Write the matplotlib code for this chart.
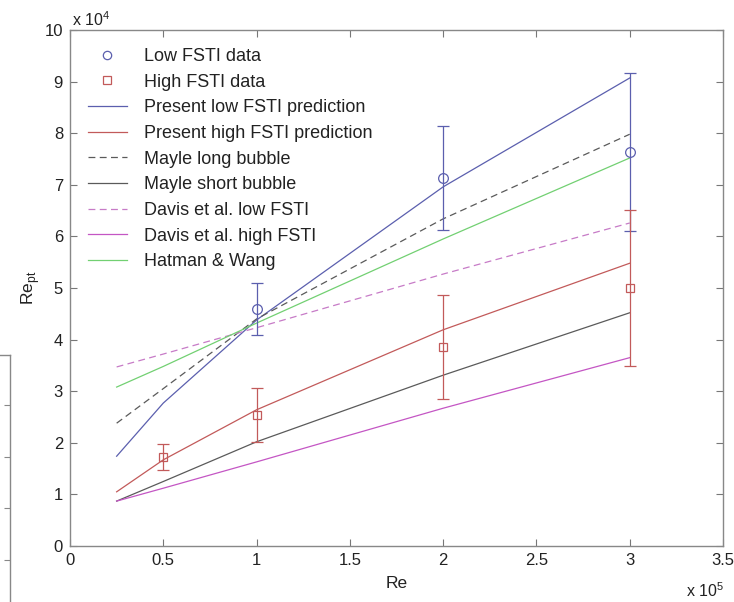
import matplotlib
matplotlib.use("Agg")
import matplotlib.pyplot as plt
from matplotlib.lines import Line2D

plt.rcParams['font.family'] = ['Liberation Sans', 'DejaVu Sans']

# ---- data (Re in 1e5, Re_pt in 1e4) ----
low_x = [1.0, 2.0, 3.0]
low_y = [4.59, 7.13, 7.64]
low_err = [0.50, 1.01, 1.53]
high_x = [0.5, 1.0, 2.0, 3.0]
high_y = [1.73, 2.54, 3.86, 5.00]
high_err = [0.25, 0.52, 1.01, 1.51]

re_line = [0.25, 0.5, 1.0, 2.0, 3.0]
present_low = [1.74, 2.77, 4.38, 6.96, 9.07]
present_high = [1.05, 1.67, 2.64, 4.19, 5.48]
mayle_long = [2.38, 3.05, 4.40, 6.34, 7.98]
mayle_short = [0.87, 1.25, 2.02, 3.31, 4.52]
davis_low = [3.47, 3.72, 4.23, 5.27, 6.26]
davis_high = [0.87, 1.12, 1.63, 2.67, 3.65]
hatman_wang = [3.08, 3.48, 4.32, 5.95, 7.52]

xticks = [0, 0.5, 1, 1.5, 2, 2.5, 3, 3.5]
xticklabels = ['0', '0.5', '1', '1.5', '2', '2.5', '3', '3.5']
yticks = list(range(0, 11))
yticklabels = [str(v) for v in yticks]

labels = ['Low FSTI data', 'High FSTI data', 'Present low FSTI prediction',
          'Present high FSTI prediction', 'Mayle long bubble', 'Mayle short bubble',
          'Davis et al. low FSTI', 'Davis et al. high FSTI', 'Hatman & Wang']

# ---- styles ----
c_blue = '#5b5fae'
c_red = '#c25a5a'
c_gray = '#5a5a5a'
c_pink = '#c77bc7'
c_mag = '#c456c4'
c_green = '#72d072'
dash = (0, (5.5, 3.5))
lw = 0.9

W, H = 734, 602
fig = plt.figure(figsize=(W / 100, H / 100), dpi=100)
ax = fig.add_axes([70 / W, 1 - 546 / H, (723 - 70) / W, (546 - 30) / H])

ax.plot(re_line, present_low, color=c_blue, lw=lw)
ax.plot(re_line, present_high, color=c_red, lw=lw)
ax.plot(re_line, mayle_long, color=c_gray, lw=lw, linestyle=dash)
ax.plot(re_line, mayle_short, color=c_gray, lw=lw)
ax.plot(re_line, davis_low, color=c_pink, lw=lw, linestyle=dash)
ax.plot(re_line, davis_high, color=c_mag, lw=lw)
ax.plot(re_line, hatman_wang, color=c_green, lw=lw)

ax.errorbar(low_x, low_y, yerr=low_err, fmt='o', mfc='none', mec=c_blue, ecolor=c_blue,
            ms=7, mew=0.9, elinewidth=0.9, capsize=4.5, capthick=0.9)
ax.errorbar(high_x, high_y, yerr=high_err, fmt='s', mfc='none', mec=c_red, ecolor=c_red,
            ms=6, mew=0.9, elinewidth=0.9, capsize=4.5, capthick=0.9)

ax.set_xlim(0, 3.5)
ax.set_ylim(0, 10)
ax.set_xticks(xticks)
ax.set_xticklabels(xticklabels)
ax.set_yticks(yticks)
ax.set_yticklabels(yticklabels)
ax.tick_params(direction='in', top=True, right=True, length=5, width=0.8,
               color='#777777', labelsize=12, labelcolor='#222222', pad=5)
for s in ax.spines.values():
    s.set_color('#888888')
    s.set_linewidth(1.0)

ax.set_xlabel('Re', fontsize=12.5, color='#222222', labelpad=6)
ax.set_ylabel('Re$_{\\mathregular{pt}}$', fontsize=12.5, color='#222222', labelpad=2)

fig.text(72 / W, 1 - 20 / H, 'x 10$^{\\mathregular{4}}$', fontsize=11.5, color='#222222',
         ha='left', va='center')
fig.text(686 / W, 1 - 591 / H, 'x 10$^{\\mathregular{5}}$', fontsize=11.5, color='#222222',
         ha='left', va='center')

handles = [
    Line2D([], [], linestyle='none', marker='o', mfc='none', mec=c_blue, ms=6, mew=0.9),
    Line2D([], [], linestyle='none', marker='s', mfc='none', mec=c_red, ms=5.5, mew=0.9),
    Line2D([], [], color=c_blue, lw=lw),
    Line2D([], [], color=c_red, lw=lw),
    Line2D([], [], color=c_gray, lw=lw, linestyle=dash),
    Line2D([], [], color=c_gray, lw=lw),
    Line2D([], [], color=c_pink, lw=lw, linestyle=dash),
    Line2D([], [], color=c_mag, lw=lw),
    Line2D([], [], color=c_green, lw=lw),
]
leg = fig.legend(handles, labels, loc='upper left', bbox_to_anchor=(88 / W, 1 - 48 / H),
                 frameon=False, fontsize=13, handlelength=2.15, handletextpad=0.95,
                 labelspacing=0.48, borderpad=0, borderaxespad=0)
for t in leg.get_texts():
    t.set_color('#222222')

# fragment of a neighbouring panel at the left edge
ax2 = fig.add_axes([-20 / W, -10 / H, 30 / W, (602 + 10 - 355) / H])
ax2.set_xlim(0, 1)
ax2.set_ylim(612, 355)
ax2.set_xticks([])
ax2.set_yticks([405, 457, 508, 560])
ax2.yaxis.tick_right()
ax2.tick_params(axis='y', direction='in', length=4, color='#888888', labelright=False,
                labelleft=False)
for s in ax2.spines.values():
    s.set_color('#888888')
    s.set_linewidth(1.0)

fig.savefig('out.png', dpi=100)
